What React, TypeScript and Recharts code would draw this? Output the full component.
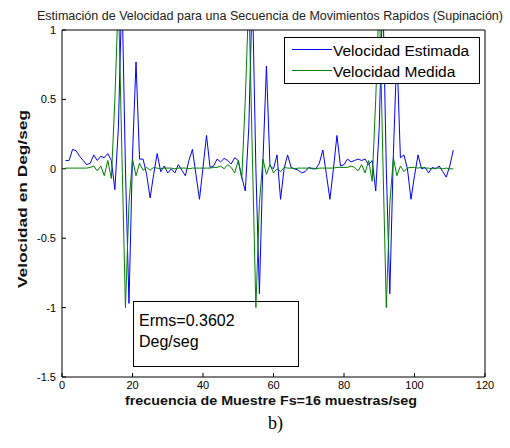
import { LineChart, Line, XAxis, YAxis, Legend } from "recharts";

// sample values (x = sample number 1..111)
const estimada = [
  0.06, 0.06, 0.14, 0.13, 0.09, 0.06, 0.03, 0.04, 0.1, 0.06,
  0.09, 0.08, 0.11, 0.06, -0.15, 0.3, 1.3, 0.0, -0.97, 0.1,
  0.77, 0.07, 0.07, -0.04, -0.21, -0.04, 0.11, -0.02, 0.02, -0.03,
  0.0, -0.03, 0.03, -0.01, -0.05, 0.06, 0.14, -0.04, -0.22, 0.01,
  0.24, 0.01, 0.02, 0.07, 0.05, 0.075, 0.06, 0.035, 0.08, 0.06,
  -0.06, -0.16, 0.3, 1.3, 0.0, -0.9, 0.05, 0.74, 0.02, 0.0,
  0.1, -0.22, 0.0, 0.1, 0.01, 0.0, -0.01, -0.03, -0.02, 0.01,
  0.0, 0.0, 0.04, 0.135, -0.04, -0.22, 0.0, 0.24, 0.02, 0.03,
  0.07, 0.05, 0.06, 0.07, 0.06, 0.07, 0.03, 0.06, -0.16, 0.3,
  1.3, 0.0, -0.9, 0.1, 0.85, 0.08, 0.1, 0.0, -0.22, -0.05,
  0.1, 0.0, 0.01, -0.03, 0.01, 0.0, 0.02, -0.02, -0.06, 0.02,
  0.135,
];

const medida = [
  0.005, 0.005, 0.005, 0.005, 0.005, 0.005, 0.005, 0.01, 0.02, -0.015,
  0.02, -0.05, 0.06, -0.07, 0.5, 1.25, 0.1, -1.0, -0.25, 0.07,
  -0.05, 0.04, -0.01, 0.01, -0.01, 0.01, 0.005, 0.0, 0.005, 0.005,
  0.005, 0.0, 0.005, 0.005, 0.005, 0.0, 0.005, 0.005, 0.005, 0.005,
  0.005, 0.005, 0.01, 0.01, 0.02, 0.0, 0.03, 0.01, -0.03, 0.06,
  -0.07, 0.5, 1.25, 0.1, -1.0, -0.25, 0.07, -0.04, 0.03, -0.03,
  0.0, -0.02, 0.01, 0.005, 0.005, 0.0, 0.005, 0.005, 0.005, 0.005,
  0.005, 0.0, 0.005, 0.005, 0.005, 0.005, 0.005, 0.01, 0.01, 0.01,
  0.01, 0.02, 0.01, -0.015, 0.03, -0.03, 0.06, -0.09, 0.5, 1.25,
  0.1, -1.0, -0.25, 0.08, -0.05, 0.02, -0.02, 0.005, 0.01, 0.01,
  0.005, 0.01, 0.005, 0.005, 0.0, 0.005, 0.005, 0.0, 0.005, 0.0,
  0.0,
];

const xTicks = [0, 20, 40, 60, 80, 100, 120];
const yTicks = [-1.5, -1, -0.5, 0, 0.5, 1];

const rows = estimada.map((v, i) => ({ n: i + 1, estimada: v, medida: medida[i] }));

const font = "'Liberation Sans', Arial, sans-serif";
const tickStyle = { fontSize: 11, fill: "#000", fontFamily: font };
const axisStroke = { stroke: "#000" };

const LegendBox = ({ payload }: any) => (
  <svg width={196} height={47} style={{ display: "block" }}>
    <rect x={0.5} y={0.5} width={195} height={46} fill="#fff" stroke="#000" />
    {(payload || []).map((p: any, i: number) => (
      <g key={p.value}>
        <line x1={8} x2={48} y1={12.5 + i * 21} y2={12.5 + i * 21} stroke={p.color} />
        <text x={49} y={18.5 + i * 21} fontSize={15.5} fontFamily={font} fill="#000">
          {p.value}
        </text>
      </g>
    ))}
  </svg>
);

export default function App() {
  return (
    <div style={{ position: "absolute", left: 0, top: 0, width: 510, height: 448, background: "#fff" }}>
      <LineChart width={510} height={448} data={rows} margin={{ top: 29, right: 24, bottom: 51, left: 22 }}>
        <XAxis
          xAxisId="b"
          type="number"
          dataKey="n"
          domain={[0, 120]}
          ticks={xTicks}
          height={20}
          tick={tickStyle}
          tickSize={-4}
          tickMargin={8}
          axisLine={axisStroke}
          tickLine={axisStroke}
        />
        <XAxis
          xAxisId="t"
          orientation="top"
          type="number"
          dataKey="n"
          domain={[0, 120]}
          ticks={xTicks}
          height={1}
          tick={false}
          tickSize={-4}
          axisLine={axisStroke}
          tickLine={axisStroke}
        />
        <YAxis
          yAxisId="l"
          type="number"
          domain={[-1.5, 1]}
          ticks={yTicks}
          allowDataOverflow
          width={40}
          tick={tickStyle}
          tickSize={-4}
          tickMargin={10}
          axisLine={axisStroke}
          tickLine={axisStroke}
        />
        <YAxis
          yAxisId="r"
          orientation="right"
          type="number"
          domain={[-1.5, 1]}
          ticks={yTicks}
          allowDataOverflow
          width={1}
          tick={false}
          tickSize={-4}
          axisLine={axisStroke}
          tickLine={axisStroke}
        />
        <Line
          xAxisId="b"
          yAxisId="l"
          type="linear"
          dataKey="estimada"
          name="Velocidad Estimada"
          stroke="#0000ff"
          strokeWidth={1}
          dot={false}
          isAnimationActive={false}
        />
        <Line
          xAxisId="t"
          yAxisId="r"
          type="linear"
          dataKey="medida"
          name="Velocidad Medida"
          stroke="#008000"
          strokeWidth={1}
          dot={false}
          isAnimationActive={false}
        />
        <Legend
          layout="vertical"
          align="center"
          verticalAlign="middle"
          content={LegendBox}
          wrapperStyle={{ left: 284, top: 37, width: 196, height: 47 }}
        />
      </LineChart>
      <svg
        width={510}
        height={448}
        style={{ position: "absolute", left: 0, top: 0, pointerEvents: "none" }}
      >
        <text x={37} y={19.5} fontSize={12} fontFamily={font} fill="#222" textLength={466} lengthAdjust="spacingAndGlyphs">
          Estimación de Velocidad para una Secuencia de Movimientos Rapidos (Supinación)
        </text>
        <text
          transform="translate(27,199) rotate(-90)"
          textAnchor="middle"
          fontSize={12.5}
          fontWeight="bold"
          fontFamily={font}
          fill="#111"
          textLength={178}
          lengthAdjust="spacingAndGlyphs"
        >
          Velocidad en Deg/seg
        </text>
        <text x={125} y={405} fontSize={12.5} fontWeight="bold" fontFamily={font} fill="#111" textLength={292} lengthAdjust="spacingAndGlyphs">
          frecuencia de Muestre Fs=16 muestras/seg
        </text>
        <text x={268} y={429} fontSize={18} fontFamily="'Liberation Serif', 'Times New Roman', serif" fill="#000">
          b)
        </text>
        <rect x={133.5} y={301.5} width={165} height={65} fill="none" stroke="#000" />
        <text x={139} y={326} fontSize={16} fontFamily={font} fill="#000">
          Erms=0.3602
        </text>
        <text x={139} y={347} fontSize={16} fontFamily={font} fill="#000">
          Deg/seg
        </text>
      </svg>
    </div>
  );
}
